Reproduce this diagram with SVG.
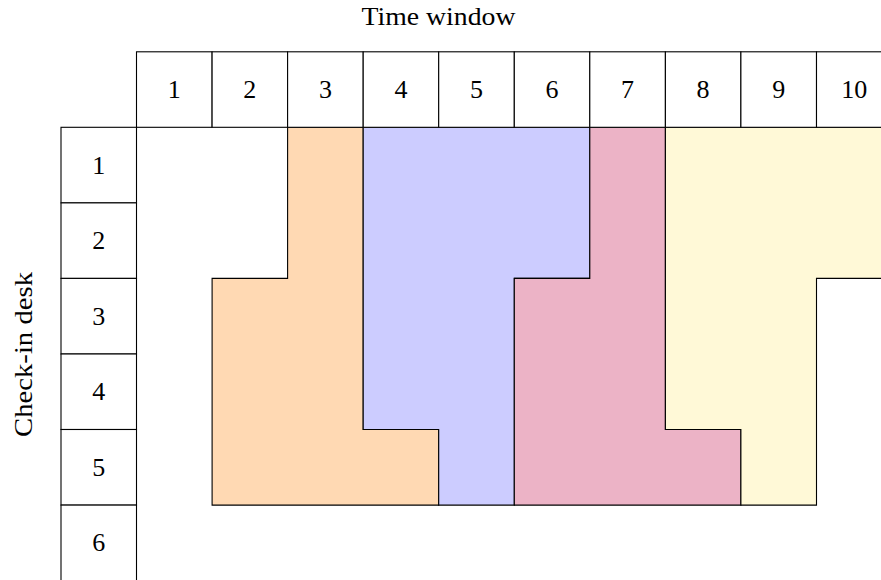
<svg xmlns="http://www.w3.org/2000/svg" width="881" height="580" viewBox="0 0 881 580">
<style>
.cell{fill:#ffffff;stroke:#000;stroke-width:1.1}
.reg{stroke:#000;stroke-width:1.1;stroke-linejoin:miter}
.lbl{font-family:"Liberation Serif","Times New Roman",serif;font-size:26px;fill:#000;text-anchor:middle}
</style>
<rect width="881" height="580" fill="#ffffff"/>
<text class="lbl" x="438.5" y="25" textLength="154" lengthAdjust="spacingAndGlyphs">Time window</text>
<text class="lbl" transform="translate(32,354.5) rotate(-90)" x="0" y="0" textLength="165" lengthAdjust="spacingAndGlyphs">Check-in desk</text>
<g id="regions">
<g id="region-orange"><path class="reg" fill="#FFD9B3" d="M287.6,127.3 H363.2 V429.5 H438.7 V505.1 H212.1 V278.4 H287.6 Z"/></g>
<g id="region-blue"><path class="reg" fill="#CCCCFF" d="M363.2,127.3 H589.8 V278.4 H514.3 V505.1 H438.7 V429.5 H363.2 Z"/></g>
<g id="region-pink"><path class="reg" fill="#ECB3C6" d="M589.8,127.3 H665.4 V429.5 H740.9 V505.1 H514.3 V278.4 H589.8 Z"/></g>
<g id="region-yellow"><path class="reg" fill="#FFF9D7" d="M665.4,127.3 H892 V278.4 H816.5 V505.1 H740.9 V429.5 H665.4 Z"/></g>
</g>
<g id="time-header">
<g id="t1"><rect class="cell" x="136.5" y="51.8" width="75.6" height="75.5"/><text class="lbl" x="174.3" y="98">1</text></g>
<g id="t2"><rect class="cell" x="212.1" y="51.8" width="75.5" height="75.5"/><text class="lbl" x="249.8" y="98">2</text></g>
<g id="t3"><rect class="cell" x="287.6" y="51.8" width="75.6" height="75.5"/><text class="lbl" x="325.4" y="98">3</text></g>
<g id="t4"><rect class="cell" x="363.2" y="51.8" width="75.5" height="75.5"/><text class="lbl" x="400.9" y="98">4</text></g>
<g id="t5"><rect class="cell" x="438.7" y="51.8" width="75.6" height="75.5"/><text class="lbl" x="476.5" y="98">5</text></g>
<g id="t6"><rect class="cell" x="514.3" y="51.8" width="75.5" height="75.5"/><text class="lbl" x="552.0" y="98">6</text></g>
<g id="t7"><rect class="cell" x="589.8" y="51.8" width="75.6" height="75.5"/><text class="lbl" x="627.6" y="98">7</text></g>
<g id="t8"><rect class="cell" x="665.4" y="51.8" width="75.5" height="75.5"/><text class="lbl" x="703.1" y="98">8</text></g>
<g id="t9"><rect class="cell" x="740.9" y="51.8" width="75.6" height="75.5"/><text class="lbl" x="778.7" y="98">9</text></g>
<g id="t10"><rect class="cell" x="816.5" y="51.8" width="75.5" height="75.5"/><text class="lbl" x="854.2" y="98">10</text></g>
</g>
<g id="desk-column">
<g id="d1"><rect class="cell" x="61" y="127.3" width="75.5" height="75.6"/><text class="lbl" x="98.7" y="173.6">1</text></g>
<g id="d2"><rect class="cell" x="61" y="202.9" width="75.5" height="75.5"/><text class="lbl" x="98.7" y="249.1">2</text></g>
<g id="d3"><rect class="cell" x="61" y="278.4" width="75.5" height="75.6"/><text class="lbl" x="98.7" y="324.7">3</text></g>
<g id="d4"><rect class="cell" x="61" y="354.0" width="75.5" height="75.5"/><text class="lbl" x="98.7" y="400.2">4</text></g>
<g id="d5"><rect class="cell" x="61" y="429.5" width="75.5" height="75.6"/><text class="lbl" x="98.7" y="475.8">5</text></g>
<g id="d6"><rect class="cell" x="61" y="505.1" width="75.5" height="75.5"/><text class="lbl" x="98.7" y="551.3">6</text></g>
</g>
<g id="connectors"></g>
</svg>
